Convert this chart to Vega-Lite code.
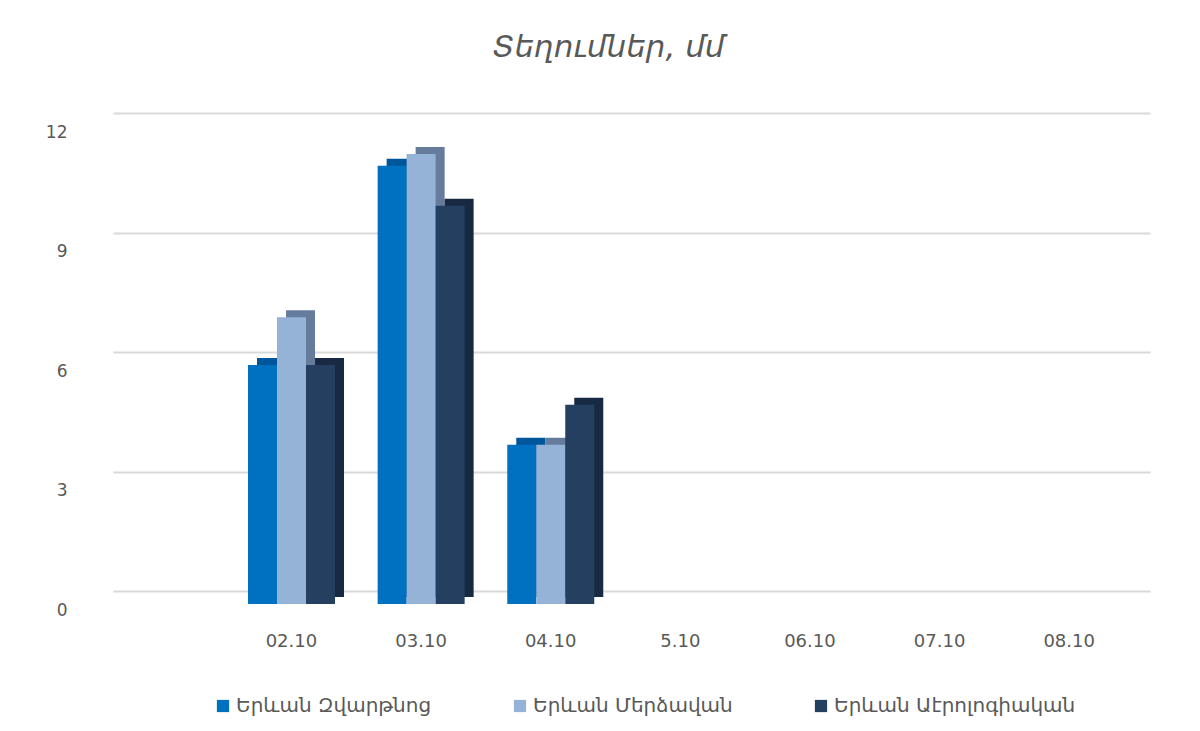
{
  "$schema": "https://vega.github.io/schema/vega-lite/v6.json",
  "width": 1037,
  "height": 478,
  "autosize": {"type": "none"},
  "padding": {"left": 113, "top": 113, "right": 50, "bottom": 140},
  "background": "white",
  "title": {
    "text": "Տեղումներ, մմ",
    "font": "DejaVu Sans",
    "fontSize": 31,
    "fontStyle": "italic",
    "fontWeight": "normal",
    "color": "#595959",
    "baseline": "alphabetic",
    "offset": 25,
    "dx": -23,
    "anchor": "middle"
  },
  "data": {
    "values": [
      {"date": "02.10", "series": "Երևան Զվարթնոց", "value": 6},
      {"date": "02.10", "series": "Երևան Մերձավան", "value": 7.2},
      {"date": "02.10", "series": "Երևան Աէրոլոգիական", "value": 6},
      {"date": "03.10", "series": "Երևան Զվարթնոց", "value": 11},
      {"date": "03.10", "series": "Երևան Մերձավան", "value": 11.3},
      {"date": "03.10", "series": "Երևան Աէրոլոգիական", "value": 10},
      {"date": "04.10", "series": "Երևան Զվարթնոց", "value": 4},
      {"date": "04.10", "series": "Երևան Մերձավան", "value": 4},
      {"date": "04.10", "series": "Երևան Աէրոլոգիական", "value": 5}
    ]
  },
  "encoding": {
    "x": {
      "field": "date",
      "type": "nominal",
      "scale": {
        "domain": ["01.10", "02.10", "03.10", "04.10", "5.10", "06.10", "07.10", "08.10"],
        "paddingInner": 0.33,
        "paddingOuter": 0.165
      },
      "axis": {
        "title": null,
        "labelAngle": 0,
        "domain": false,
        "ticks": false,
        "labelPadding": 41,
        "labelOffset": -16,
        "labelFont": "DejaVu Sans",
        "labelFontSize": 18,
        "labelColor": "#595959",
        "labelExpr": "datum.value == '01.10' ? '' : datum.value"
      }
    },
    "y": {
      "field": "value",
      "type": "quantitative",
      "scale": {"domain": [0, 12], "nice": false},
      "axis": {
        "title": null,
        "values": [0, 3, 6, 9, 12],
        "domain": false,
        "ticks": false,
        "labelPadding": 46,
        "labelOffset": 19,
        "labelFont": "DejaVu Sans",
        "labelFontSize": 17,
        "labelColor": "#595959",
        "gridColor": "#d9d9d9",
        "gridWidth": 2
      }
    }
  },
  "layer": [
    {
      "mark": {"type": "bar", "yOffset": 6, "y2Offset": 6},
      "encoding": {
        "xOffset": {
          "field": "series",
          "type": "nominal",
          "scale": {"domain": ["Երևան Զվարթնոց", "Երևան Մերձավան", "Երևան Աէրոլոգիական"], "paddingInner": 0, "paddingOuter": 0, "range": [-7, 80]}
        },
        "color": {
          "field": "series",
          "type": "nominal",
          "scale": {
            "domain": ["Երևան Զվարթնոց", "Երևան Մերձավան", "Երևան Աէրոլոգիական"],
            "range": ["#00569A", "#667C9C", "#182A43"]
          },
          "legend": null
        }
      }
    },
    {
      "mark": {"type": "bar", "yOffset": 13, "y2Offset": 13},
      "encoding": {
        "xOffset": {
          "field": "series",
          "type": "nominal",
          "scale": {"domain": ["Երևան Զվարթնոց", "Երևան Մերձավան", "Երևան Աէրոլոգիական"], "paddingInner": 0, "paddingOuter": 0, "range": [-16, 71]}
        },
        "color": {
          "field": "series",
          "type": "nominal",
          "scale": {
            "domain": ["Երևան Զվարթնոց", "Երևան Մերձավան", "Երևան Աէրոլոգիական"],
            "range": ["#0070C0", "#95B3D7", "#243F60"]
          },
          "legend": {
            "title": null,
            "orient": "none",
            "direction": "horizontal",
            "legendX": 100,
            "legendY": 583,
            "symbolType": "square",
            "symbolSize": 150,
            "symbolStrokeWidth": 0,
            "labelFont": "DejaVu Sans",
            "labelFontSize": 20,
            "labelColor": "#595959",
            "labelOffset": 3,
            "columnPadding": 78,
            "labelLimit": 400
          }
        }
      }
    }
  ],
  "resolve": {"scale": {"color": "independent", "xOffset": "independent"}},
  "config": {"view": {"stroke": null}}
}
